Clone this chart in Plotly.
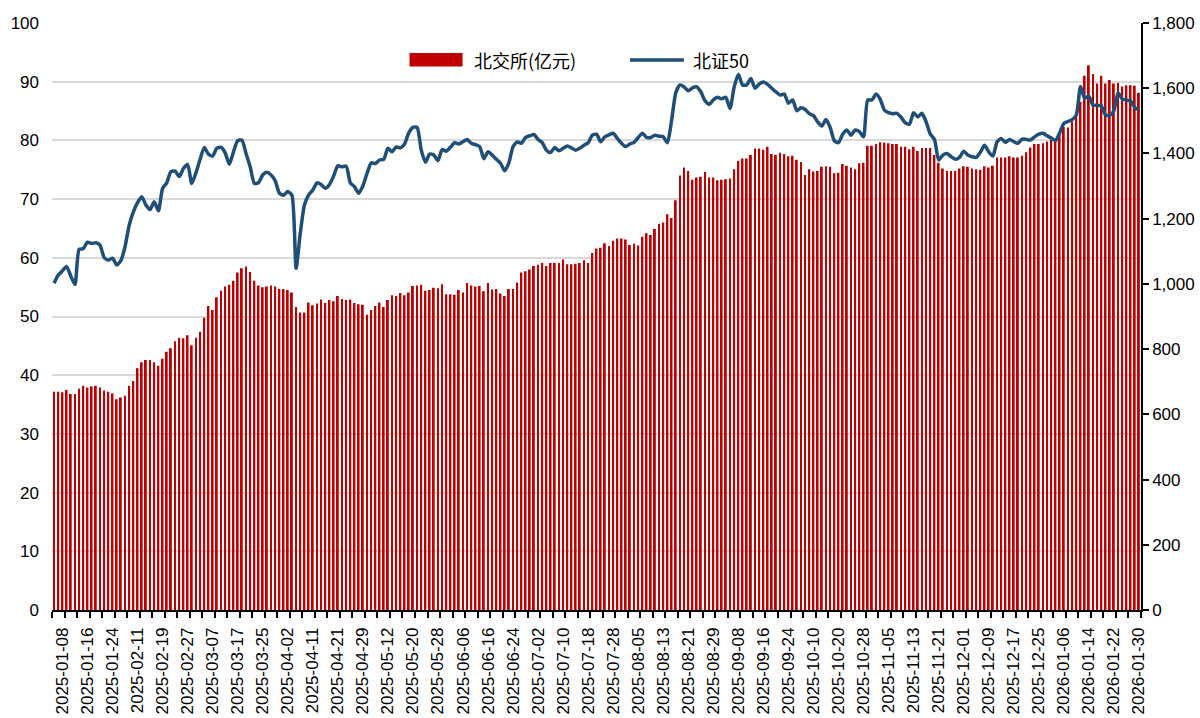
import pandas as pd
import plotly.graph_objects as go

# ---- categories: trading days (SSE calendar) ----
holidays = ["2025-01-28", "2025-01-29", "2025-01-30", "2025-01-31", "2025-02-03", "2025-02-04",
            "2025-04-04", "2025-05-01", "2025-05-02", "2025-05-05", "2025-06-02",
            "2025-10-01", "2025-10-02", "2025-10-03", "2025-10-06", "2025-10-07", "2025-10-08",
            "2026-01-01", "2026-01-02"]
dates = [d.strftime("%Y-%m-%d") for d in pd.bdate_range("2025-01-06", "2026-01-30")
         if d.strftime("%Y-%m-%d") not in holidays]

# ---- 北交所 成交额 (亿元), left axis ----
turnover = [
    37.2, 37.2, 37.1, 37.5, 36.8, 36.8, 37.7, 38.2, 37.9, 38.1, 38.2, 37.9, 37.4, 37.2, 36.9, 35.9,
    36.2, 36.5, 38.2, 39.0, 41.2, 42.2, 42.6, 42.6, 42.2, 41.6, 42.8, 44.0, 44.6, 45.8, 46.4, 46.3,
    46.8, 45.1, 46.4, 47.4, 49.8, 51.8, 51.1, 53.3, 54.4, 55.1, 55.4, 56.1, 57.5,
    58.2, 58.5, 57.6, 56.1, 55.3, 55.0, 55.1, 55.3, 55.1, 54.7, 54.7, 54.5, 54.1, 51.6, 50.7, 50.7,
    52.4, 51.9, 52.2, 52.9, 52.3, 52.8, 52.6, 53.5, 53.0, 52.8, 52.9, 52.3, 52.1, 52.0, 50.3, 51.1,
    51.8, 52.4, 51.6, 52.8, 53.6, 53.5, 54.0, 53.6, 54.1, 55.2, 55.3, 55.4, 54.4, 54.5,
    54.9, 54.8, 55.5, 53.8, 53.8, 53.7, 54.5, 54.1, 55.7, 55.3, 55.1, 55.2, 54.3, 55.7, 54.6, 54.7,
    53.9, 53.5, 54.7, 54.7, 55.8, 57.5, 57.7, 58.0, 58.6, 58.8, 59.1, 58.6, 59.1, 59.1, 59.1, 59.7,
    58.9, 58.9, 59.0, 59.1, 59.6, 59.1, 60.8, 61.6, 61.7, 62.5, 62.0, 62.9, 63.3,
    63.3, 63.1, 62.2, 62.4, 62.1, 63.6, 64.2, 63.9, 64.9, 65.8, 66.0, 67.4, 66.8, 69.8, 74.0, 75.4,
    74.8, 73.3, 73.7, 73.8, 74.6, 73.7, 73.7, 73.2, 73.3, 73.4, 73.5, 75.1, 76.5, 76.9, 76.9, 77.5,
    78.6, 78.6, 78.4, 78.9, 77.7, 77.5, 77.9, 77.7, 77.3, 77.4, 76.7, 76.3, 74.1, 75.1,
    74.7, 74.8, 75.5, 75.6, 75.5, 74.4, 74.5, 76.0, 75.7, 75.4, 75.1, 76.1, 76.2, 79.1, 79.1, 79.4,
    79.7, 79.6, 79.5, 79.4, 79.4, 78.9, 78.9, 78.5, 78.9, 78.2, 78.7, 78.7, 78.7, 77.5, 76.2, 75.2,
    74.8, 74.8, 74.8, 75.2, 75.6, 75.5, 75.2, 75.1, 75.0, 75.6, 75.4, 75.7, 77.1, 77.1,
    77.1, 77.3, 77.1, 77.1, 77.4, 78.0, 78.8, 79.4, 79.4, 79.5, 79.8, 80.1, 80.1, 80.9, 82.3, 82.2,
    83.2, 84.0, 86.6, 91.0, 92.8, 91.3, 89.7, 91.0, 89.7, 90.3, 89.7, 89.8, 89.2, 89.4, 89.4, 89.3,
    88.1,
]

# ---- 北证50 index, right axis ----
bz50 = [
    1002, 1027, 1040, 1053, 1024, 998, 1106, 1108, 1128, 1124, 1126, 1119, 1081, 1073, 1079, 1058,
    1071, 1114, 1180, 1221, 1249, 1267, 1242, 1228, 1252, 1224, 1293, 1310, 1344, 1346, 1329, 1354,
    1366, 1308, 1341, 1382, 1418, 1398, 1392, 1416, 1419, 1402, 1367, 1405, 1439,
    1441, 1400, 1359, 1308, 1310, 1334, 1342, 1334, 1316, 1278, 1272, 1283, 1272, 1048, 1155, 1242,
    1272, 1288, 1310, 1305, 1293, 1305, 1331, 1362, 1359, 1361, 1310, 1298, 1278, 1300, 1339, 1371,
    1369, 1380, 1382, 1416, 1405, 1420, 1417, 1429, 1463, 1480, 1480, 1410, 1373, 1398,
    1395, 1378, 1412, 1407, 1419, 1433, 1429, 1436, 1443, 1431, 1427, 1421, 1384, 1405, 1395, 1382,
    1370, 1347, 1371, 1421, 1435, 1431, 1449, 1454, 1458, 1443, 1433, 1410, 1403, 1418, 1408, 1416,
    1423, 1417, 1410, 1416, 1425, 1433, 1456, 1459, 1436, 1451, 1457, 1462, 1446,
    1431, 1421, 1429, 1434, 1449, 1462, 1449, 1449, 1456, 1453, 1451, 1433, 1502, 1586, 1610, 1604,
    1592, 1601, 1604, 1589, 1562, 1551, 1564, 1572, 1568, 1572, 1538, 1604, 1643, 1610, 1610, 1630,
    1600, 1613, 1619, 1612, 1600, 1589, 1579, 1582, 1554, 1564, 1531, 1540, 1535, 1522,
    1516, 1497, 1484, 1504, 1480, 1439, 1433, 1459, 1472, 1456, 1472, 1467, 1451, 1564, 1564, 1582,
    1566, 1533, 1525, 1522, 1523, 1511, 1494, 1490, 1525, 1512, 1523, 1497, 1459, 1443, 1380, 1395,
    1400, 1390, 1382, 1388, 1407, 1395, 1390, 1388, 1404, 1425, 1405, 1392, 1435, 1446,
    1434, 1443, 1436, 1431, 1444, 1443, 1441, 1451, 1459, 1462, 1454, 1447, 1439, 1463, 1492, 1498,
    1504, 1518, 1605, 1569, 1576, 1548, 1548, 1545, 1518, 1517, 1531, 1586, 1567, 1564, 1561, 1541,
    1533,
]

bar_name = "北交所(亿元)"
line_name = "北证50"
left_ticks = list(range(0, 101, 10))
right_ticks = list(range(0, 1801, 200))

n = len(dates)
xpos = list(range(n))
label_idx = list(range(2, n, 6))
tick_bounds = [k - 0.5 for k in range(0, n + 1, 3)]

NUM_FONT = "Liberation Sans, Arial, sans-serif"
CJK_FONT = "Noto Sans CJK SC, sans-serif"

fig = go.Figure()
fig.add_bar(x=xpos, y=turnover, name=bar_name, marker=dict(color="#C00000", line=dict(width=0)),
            yaxis="y")
fig.add_scatter(x=xpos, y=bz50, name=line_name, mode="lines", yaxis="y2",
                line=dict(color="#1F4E79", width=3.5, shape="spline", smoothing=0.6))

fig.update_layout(
    width=1200, height=718,
    margin=dict(l=52, r=59, t=23, b=108),
    paper_bgcolor="white", plot_bgcolor="white",
    showlegend=False, bargap=0.55,
    font=dict(family=NUM_FONT, size=17, color="#000000"),
    xaxis=dict(
        type="linear", range=[-0.5, n - 0.5], automargin=False,
        tickmode="array", tickvals=label_idx, ticktext=[dates[i] for i in label_idx],
        tickangle=-90, ticks="outside", ticklen=0, ticklabelstandoff=9,
        tickfont=dict(family=NUM_FONT, size=17, color="#000000"),
        showline=True, linecolor="#000000", linewidth=1.5,
        showgrid=False, zeroline=False,
        minor=dict(tickmode="array", tickvals=tick_bounds, ticks="outside", ticklen=6,
                   tickcolor="#000000", tickwidth=1.5, showgrid=False),
    ),
    yaxis=dict(
        range=[0, 100], tickmode="array", tickvals=left_ticks, automargin=False,
        showgrid=True, gridcolor="#D9D9D9", gridwidth=1.5,
        showline=False, zeroline=False, ticks="", ticklabelstandoff=12,
        tickfont=dict(family=NUM_FONT, size=17, color="#000000"),
    ),
    yaxis2=dict(
        range=[0, 1800], tickmode="array", tickvals=right_ticks, tickformat=",", automargin=False,
        overlaying="y", side="right", showgrid=False, zeroline=False,
        showline=True, linecolor="#000000", linewidth=1.5,
        ticks="outside", ticklen=6, tickcolor="#000000", tickwidth=1.5,
        tickfont=dict(family=NUM_FONT, size=17, color="#000000"),
    ),
)

# custom legend (wide swatches like the original)
fig.add_shape(type="rect", xref="paper", yref="paper", x0=0.3283, x1=0.3770, y0=0.926, y1=0.949,
              fillcolor="#C00000", line=dict(width=0))
fig.add_annotation(xref="paper", yref="paper", x=0.386, y=0.937, xanchor="left", yanchor="middle",
                   text=bar_name, showarrow=False,
                   font=dict(family=CJK_FONT, size=18, color="#000000"))
fig.add_shape(type="line", xref="paper", yref="paper", x0=0.5307, x1=0.5803, y0=0.937, y1=0.937,
              line=dict(color="#1F4E79", width=3.5))
fig.add_annotation(xref="paper", yref="paper", x=0.5868, y=0.937, xanchor="left", yanchor="middle",
                   text=line_name, showarrow=False,
                   font=dict(family=CJK_FONT, size=18, color="#000000"))

fig.write_html("out.html", config={"displayModeBar": False},
               post_script="document.body.style.margin='0';document.body.style.overflow='hidden';")
